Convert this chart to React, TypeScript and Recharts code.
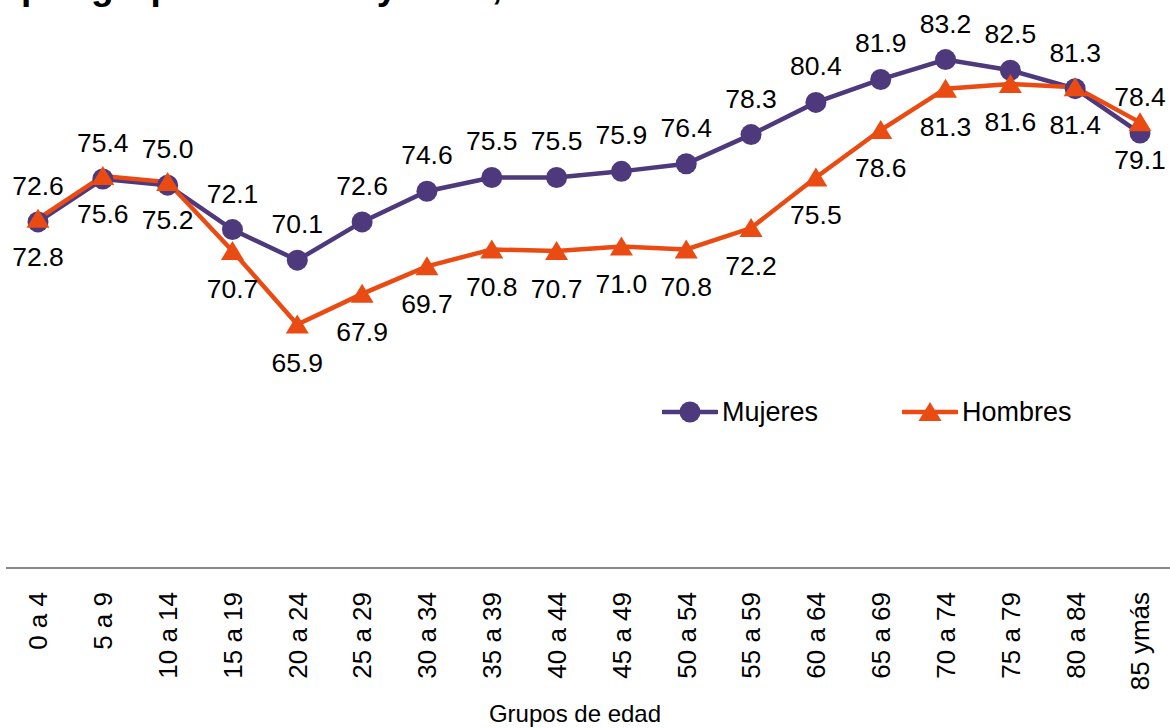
import React from 'react';
import { LineChart, Line, XAxis, YAxis, LabelList } from 'recharts';

const categories = ['0 a 4', '5 a 9', '10 a 14', '15 a 19', '20 a 24', '25 a 29', '30 a 34', '35 a 39', '40 a 44', '45 a 49', '50 a 54', '55 a 59', '60 a 64', '65 a 69', '70 a 74', '75 a 79', '80 a 84', '85 ymás'];
const mujeres = [72.6, 75.4, 75.0, 72.1, 70.1, 72.6, 74.6, 75.5, 75.5, 75.9, 76.4, 78.3, 80.4, 81.9, 83.2, 82.5, 81.3, 78.4];
const hombres = [72.8, 75.6, 75.2, 70.7, 65.9, 67.9, 69.7, 70.8, 70.7, 71.0, 70.8, 72.2, 75.5, 78.6, 81.3, 81.6, 81.4, 79.1];
const yDomain = [50, 85];
const titleText = 'por grupos de edad y sexo, 2020';
const xAxisTitle = 'Grupos de edad';
const seriesNames = ['Mujeres', 'Hombres'];

const PURPLE = '#4F397D';
const ORANGE = '#E94B12';
const FONT = '"Liberation Sans", Arial, sans-serif';

const data = categories.map((c, i) => ({ cat: c, mujeres: mujeres[i], hombres: hombres[i] }));

const CircleDot = (props: any) => {
  const { cx, cy } = props;
  if (cx == null || cy == null) return null;
  return <circle cx={cx} cy={cy} r={10.5} fill={PURPLE} stroke="none" />;
};

const TriDot = (props: any) => {
  const { cx, cy } = props;
  if (cx == null || cy == null) return null;
  return <polygon points={`${cx},${cy - 10} ${cx + 11.5},${cy + 9} ${cx - 11.5},${cy + 9}`} fill={ORANGE} stroke="none" />;
};

const makeLabel = (dy: number) => (props: any) => {
  const { x, y, value } = props;
  return (
    <text x={x} y={y + dy} textAnchor="middle" fontFamily={FONT} fontSize={26.5} fill="#000">
      {Number(value).toFixed(1)}
    </text>
  );
};

const Tick = (props: any) => {
  const { x, y, payload } = props;
  return (
    <text
      transform={`translate(${x}, ${y + 16}) rotate(-90)`}
      textAnchor="end"
      dy="0.36em"
      fontFamily={FONT}
      fontSize={26}
      fill="#000"
    >
      {payload.value}
    </text>
  );
};

const LegendItem = ({ name, color, marker, left }: any) => (
  <div style={{ position: 'absolute', left, top: 397, display: 'flex', alignItems: 'center', height: 30 }}>
    <svg width={56} height={30} style={{ display: 'block' }}>
      <line x1={1} y1={15} x2={55} y2={15} stroke={color} strokeWidth={4.5} strokeLinecap="round" />
      {marker === 'circle' ? (
        <circle cx={28} cy={15} r={10.5} fill={color} />
      ) : (
        <polygon points="28,5 39.5,24 16.5,24" fill={color} />
      )}
    </svg>
    <span style={{ fontFamily: FONT, fontSize: 27, color: '#000', marginLeft: 4, lineHeight: '30px' }}>{name}</span>
  </div>
);

export default function App() {
  return (
    <div style={{ position: 'absolute', left: 0, top: 0, width: 1170, height: 728, background: '#fff', overflow: 'hidden' }}>
      <LineChart width={1170} height={728} data={data} margin={{ top: 32, right: 0, left: 6, bottom: 0 }}>
        <text x={21} y={-1.5} fontFamily={FONT} fontWeight="bold" fontSize={37} fill="#000">
          {titleText}
        </text>
        <XAxis
          dataKey="cat"
          interval={0}
          height={160}
          tickLine={false}
          padding={{ left: 32, right: 30 }}
          axisLine={{ stroke: '#898989', strokeWidth: 2 }}
          tick={<Tick />}
        />
        <YAxis hide domain={yDomain} type="number" allowDataOverflow />
        <Line
          dataKey="mujeres"
          name={seriesNames[0]}
          stroke={PURPLE}
          strokeWidth={4.5}
          dot={<CircleDot />}
          activeDot={false}
          isAnimationActive={false}
        >
          <LabelList dataKey="mujeres" content={makeLabel(-27)} />
        </Line>
        <Line
          dataKey="hombres"
          name={seriesNames[1]}
          stroke={ORANGE}
          strokeWidth={4.5}
          dot={<TriDot />}
          activeDot={false}
          isAnimationActive={false}
        >
          <LabelList dataKey="hombres" content={makeLabel(47)} />
        </Line>
        <text x={575} y={722} textAnchor="middle" fontFamily={FONT} fontSize={24} fill="#000">
          {xAxisTitle}
        </text>
      </LineChart>
      <LegendItem name={seriesNames[0]} color={PURPLE} marker="circle" left={662} />
      <LegendItem name={seriesNames[1]} color={ORANGE} marker="triangle" left={902} />
    </div>
  );
}
